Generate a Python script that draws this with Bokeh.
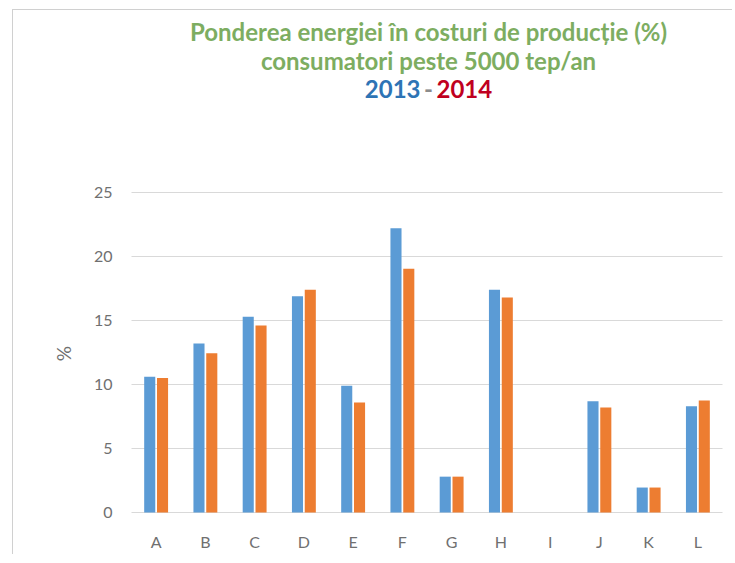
import math
from bokeh.plotting import figure
from bokeh.models import ColumnDataSource, Range1d
from bokeh.core.properties import value
from bokeh.transform import dodge
from bokeh.embed import file_html
from bokeh.resources import INLINE

categories = ["A", "B", "C", "D", "E", "F", "G", "H", "I", "J", "K", "L"]
values_2013 = [10.6, 13.2, 15.3, 16.9, 9.9, 22.2, 2.8, 17.4, 0, 8.7, 1.95, 8.3]
values_2014 = [10.5, 12.45, 14.6, 17.4, 8.6, 19.05, 2.8, 16.8, 0, 8.2, 1.95, 8.75]
y_ticks = [0, 5, 10, 15, 20, 25]
title_lines = ["Ponderea energiei în costuri de producție (%)", "consumatori peste 5000 tep/an"]
years = ["2013", "2014"]
y_label = "%"

W, H = 720, 545
n = len(categories)
centers = [i + 0.5 for i in range(n)]
src = ColumnDataSource(dict(x=centers, cat=categories, v13=values_2013, v14=values_2014))

p = figure(x_range=Range1d(-2.396, 12.223), y_range=Range1d(-3.36, 39.22),
           width=W, height=H, output_backend="svg", toolbar_location=None,
           min_border=0, min_border_left=0, min_border_right=0,
           min_border_top=0, min_border_bottom=0,
           styles={"margin-left": "12px", "margin-top": "9px",
                   "border-left": "1px solid #D0D0D0", "border-top": "1px solid #D0D0D0"})
p.axis.visible = False
p.grid.visible = False
p.outline_line_color = None
p.background_fill_color = "white"
p.border_fill_color = "white"

# gridlines
p.segment(x0=[0] * len(y_ticks), y0=y_ticks, x1=[n] * len(y_ticks), y1=y_ticks,
          line_color="#D9D9D9", line_width=1)

# bars
p.vbar(x=dodge("x", -0.13), top="v13", width=0.225, source=src,
       fill_color="#5B9BD5", line_color=None)
p.vbar(x=dodge("x", 0.13), top="v14", width=0.225, source=src,
       fill_color="#ED7D31", line_color=None)

tick_color = "#707070"
font = value("Lato")
# y tick labels
p.text(x=[-0.386] * len(y_ticks), y=y_ticks, text=[str(t) for t in y_ticks],
       text_align="right", text_baseline="middle", text_font=font,
       text_font_size="16px", text_color=tick_color)
# category labels
p.text(x="x", y=value(-2.27), text="cat", source=src, text_align="center",
       text_baseline="middle", text_font=font, text_font_size="16px", text_color=tick_color)
# y axis title
p.text(x=[-1.38], y=[12.42], text=[y_label], angle=math.pi / 2, text_align="center",
       text_baseline="middle", text_font=font, text_font_size="19px", text_color=tick_color)

# chart title
green = "#7DAD61"
cx = 6.03
common = dict(text_baseline="middle", text_font=font, text_font_size="24px",
              text_font_style="bold")
p.text(x=[cx, cx], y=[37.55, 35.33], text=title_lines, text_align="center",
       text_color=green, **common)
p.text(x=[cx], y=[33.05], text=[years[0]], text_align="right", x_offset=-8,
       text_color="#2E74B5", **common)
p.text(x=[cx], y=[33.05], text=["-"], text_align="center", text_color="#8C8C8C", **common)
p.text(x=[cx], y=[33.05], text=[years[1]], text_align="left", x_offset=8,
       text_color="#C00020", **common)

open("out.html", "w").write(file_html(p, INLINE))
